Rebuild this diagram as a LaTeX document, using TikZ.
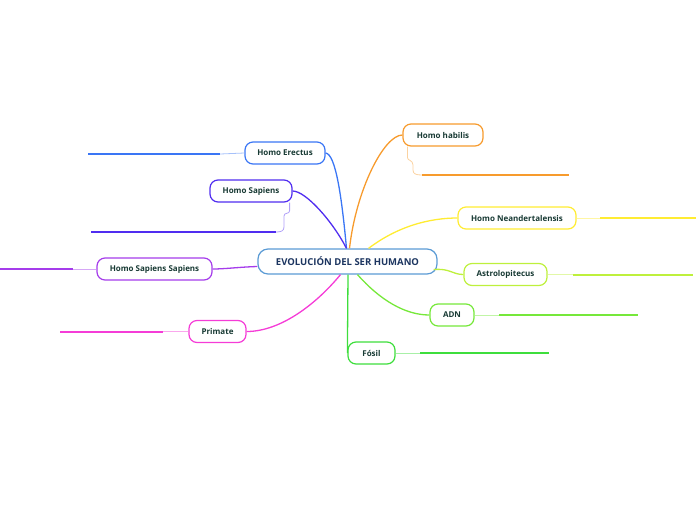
\documentclass[tikz,border=0pt]{standalone}
\usepackage{fontspec}
\setmainfont{Open Sans}
\usetikzlibrary{arrows.meta}
\definecolor{rootcolor}{RGB}{91, 155, 213}
\definecolor{roottext}{RGB}{28, 53, 96}
\definecolor{nodetext}{RGB}{24, 58, 52}
\definecolor{habiliscolor}{RGB}{247, 155, 45}
\definecolor{erectuscolor}{RGB}{58, 118, 245}
\definecolor{sapienscolor}{RGB}{80, 45, 240}
\definecolor{neandercolor}{RGB}{255, 236, 50}
\definecolor{astrocolor}{RGB}{190, 240, 60}
\definecolor{adncolor}{RGB}{118, 232, 58}
\definecolor{fosilcolor}{RGB}{62, 222, 60}
\definecolor{sapsapcolor}{RGB}{165, 60, 235}
\definecolor{primatecolor}{RGB}{245, 60, 215}
\tikzset{
  topic/.style={rectangle, rounded corners=8pt, minimum height=22pt, inner xsep=10pt, text centered, font=\fontsize{8}{9}\selectfont\bfseries, fill=white, line width=1.2pt, text=nodetext},
  root/.style={rectangle, rounded corners=10pt, minimum height=25pt, minimum width=179pt, inner xsep=14pt, text centered, font=\fontsize{9.5}{11}\selectfont\bfseries, fill=white, draw=rootcolor, line width=1.2pt, text=roottext},
  link/.style={line width=1.3pt},
  stub/.style={line width=0.8pt},
  bar/.style={line width=2pt}
}
\begin{document}
\begin{tikzpicture}[x=1pt, y=-1pt]
  \useasboundingbox (0,0) rectangle (696,520);

  % nodes
  \node[root] (root) at (347.5,261.5) {EVOLUCIÓN DEL SER HUMANO};

  \node[topic, draw=habiliscolor, minimum width=80pt]  (habilis) at (443,135) {Homo habilis};
  \node[topic, draw=erectuscolor, minimum width=80pt]  (erectus) at (285,153) {Homo Erectus};
  \node[topic, draw=sapienscolor, minimum width=82pt]  (sapiens) at (251,191) {Homo Sapiens};
  \node[topic, draw=neandercolor, minimum width=118pt] (neander) at (517,218) {Homo Neandertalensis};
  \node[topic, draw=astrocolor, minimum width=83pt]    (astro)   at (505.5,274.5) {Astrolopitecus};
  \node[topic, draw=adncolor, minimum width=44pt]      (adn)     at (452,315) {ADN};
  \node[topic, draw=fosilcolor, minimum width=47pt]    (fosil)   at (371.5,353) {Fósil};
  \node[topic, draw=sapsapcolor, minimum width=115pt]  (sapsap)  at (154.5,269) {Homo Sapiens Sapiens};
  \node[topic, draw=primatecolor, minimum width=57pt]  (primate) at (217.5,331.5) {Primate};

  % connectors from the root
  \draw[link, erectuscolor] (root.north) ++(-1,0) coordinate (e0)
    (e0) .. controls (342,200) and (336,154) .. (erectus.east);
  \draw[link, sapienscolor] (e0) .. controls (333,222) and (306,191) .. (sapiens.east);
  \draw[link, habiliscolor] (root.north) ++(2,0) coordinate (h0)
    (h0) .. controls (356,190) and (384,135) .. (habilis.west);
  \draw[link, neandercolor] (root.north) ++(21,0) coordinate (n0)
    (n0) .. controls (398,226) and (430,218) .. (neander.west);
  \draw[link, astrocolor] (root.south east) ++(-4,-5) coordinate (a0)
    (a0) .. controls (450,268) and (452,274.5) .. (astro.west);
  \draw[link, adncolor] (root.south) ++(10,0) coordinate (d0)
    (d0) .. controls (380,300) and (405,315) .. (adn.west);
  \draw[link, fosilcolor] (root.south) ++(0.5,0) coordinate (f0)
    (f0) -- (fosil.west);
  \draw[link, sapsapcolor] (root.west) ++(0,5) coordinate (s0)
    (s0) .. controls (240,267) and (225,269) .. (sapsap.east);
  \draw[link, primatecolor] (root.south) ++(-7,0) coordinate (p0)
    (p0) .. controls (318,302) and (282,331.5) .. (primate.east);

  % free ends of the bars
  \coordinate (habilisA) at (422,175);   \coordinate (habilisB) at (569,175);
  \coordinate (erectusA) at (220,154);   \coordinate (erectusB) at (88,154);
  \coordinate (sapiensA) at (276,232);   \coordinate (sapiensB) at (91,232);
  \coordinate (neanderA) at (600,218);   \coordinate (neanderB) at (696,218);
  \coordinate (astroA)   at (573,274.5); \coordinate (astroB)   at (693,274.5);
  \coordinate (adnA)     at (499,315);   \coordinate (adnB)     at (638,315);
  \coordinate (fosilA)   at (420,353);   \coordinate (fosilB)   at (549,353);
  \coordinate (sapsapA)  at (73,269);    \coordinate (sapsapB)  at (0,269);
  \coordinate (primateA) at (163,331.5); \coordinate (primateB) at (60,331.5);

  % bars
  \draw[stub, habiliscolor!45] (habilis.south west) ++(5,0) coordinate (h1)
    (h1) -- ++(0,11) .. controls ++(0,3) and (413,160) .. (413,165)
    -- (413,170) .. controls (413,174) and (416,175) .. (habilisA);
  \draw[bar, habiliscolor] (habilisA) -- (habilisB);

  \draw[stub, erectuscolor!45] (erectus.west) -- (erectusA);
  \draw[bar, erectuscolor] (erectusA) -- (erectusB);

  \draw[stub, sapienscolor!45] (sapiens.south east) ++(-3,0) coordinate (s1)
    (s1) -- ++(0,8) .. controls ++(0,4) and (284,212) .. (284,216)
    -- (284,227) .. controls (284,231) and (281,232) .. (sapiensA);
  \draw[bar, sapienscolor] (sapiensA) -- (sapiensB);

  \draw[stub, neandercolor!45] (neander.east) -- (neanderA);
  \draw[bar, neandercolor] (neanderA) -- (neanderB);

  \draw[stub, astrocolor!45] (astro.east) -- (astroA);
  \draw[bar, astrocolor] (astroA) -- (astroB);

  \draw[stub, adncolor!45] (adn.east) -- (adnA);
  \draw[bar, adncolor] (adnA) -- (adnB);

  \draw[stub, fosilcolor!45] (fosil.east) -- (fosilA);
  \draw[bar, fosilcolor] (fosilA) -- (fosilB);

  \draw[stub, sapsapcolor!45] (sapsap.west) -- (sapsapA);
  \draw[bar, sapsapcolor] (sapsapA) -- (sapsapB);

  \draw[stub, primatecolor!45] (primate.west) -- (primateA);
  \draw[bar, primatecolor] (primateA) -- (primateB);

\end{tikzpicture}
\end{document}
